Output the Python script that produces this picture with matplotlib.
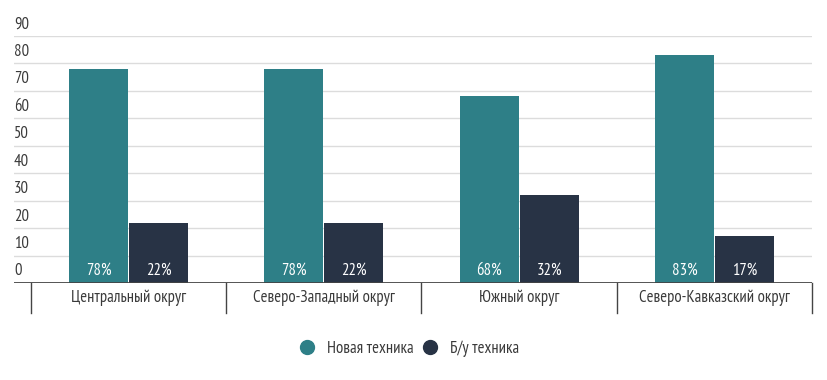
import matplotlib
matplotlib.use("Agg")
import matplotlib.pyplot as plt
import matplotlib.transforms as mtransforms
from matplotlib.lines import Line2D
import numpy as np

# ===== data =====
districts = ["Центральный округ", "Северо-Западный округ", "Южный округ", "Северо-Кавказский округ"]
new_equipment = [78, 78, 68, 83]
used_equipment = [22, 22, 32, 17]
series_names = ["Новая техника", "Б/у техника"]
y_ticks = [0, 10, 20, 30, 40, 50, 60, 70, 80, 90]

# ===== style =====
teal = "#2E7F87"
navy = "#283345"
text_col = "#3a3a3a"
fsize = 12
plt.rcParams["font.family"] = ["PT Sans Narrow", "DejaVu Sans"]

W, H = 828, 380
fig = plt.figure(figsize=(W / 100, H / 100), dpi=100)
ax_left, ax_right, ax_top, ax_bot = 14, 812, 36, 283
ax = fig.add_axes([ax_left / W, (H - ax_bot) / H, (ax_right - ax_left) / W, (ax_bot - ax_top) / H])

cat_px = (ax_right - 31) / 4.0
x = np.arange(len(districts))
width = 59 / cat_px
offset = 30 / cat_px

ax.bar(x - offset, new_equipment, width=width, color=teal, zorder=3)
ax.bar(x + offset, used_equipment, width=width, color=navy, zorder=3)

ax.set_xlim(-0.5 - (31 - ax_left) / cat_px, len(districts) - 0.5)
ax.set_ylim(0, 90)

# gridlines
for t in y_ticks[1:]:
    ax.axhline(t, color="#dcdcdc", lw=1, zorder=1)
ax.axhline(0, color="#444444", lw=2, zorder=4)

# y labels sit above gridlines, left aligned
for t in y_ticks:
    ax.text(0, t + 1.3, str(t), transform=mtransforms.blended_transform_factory(ax.transAxes, ax.transData),
            ha="left", va="bottom", fontsize=fsize, color=text_col)

# percentage labels inside bars
for i in range(len(districts)):
    ax.text(x[i] - offset, 4.4, f"{new_equipment[i]}%", ha="center", va="center", color="white", fontsize=fsize, zorder=5)
    ax.text(x[i] + offset, 4.4, f"{used_equipment[i]}%", ha="center", va="center", color="white", fontsize=fsize, zorder=5)

# category separators and labels
trans = mtransforms.blended_transform_factory(ax.transData, ax.transAxes)
sep_len = 30 / (ax_bot - ax_top)
for b in np.arange(-0.5, len(districts), 1.0):
    ax.plot([b, b], [0, -sep_len], transform=trans, color="#444444", lw=1, clip_on=False)
for i, name in enumerate(districts):
    ax.text(x[i], -15 / (ax_bot - ax_top), name, transform=trans, ha="center", va="center",
            fontsize=fsize, color=text_col)

ax.set_xticks([])
ax.set_yticks([])
for s in ax.spines.values():
    s.set_visible(False)

# legend
handles = [Line2D([], [], marker="o", ls="", markersize=10, color=c) for c in (teal, navy)]
fig.legend(handles, series_names, loc="center", bbox_to_anchor=(408 / W, (H - 349) / H), ncol=2,
           frameon=False, fontsize=fsize, handlelength=1.2, handletextpad=0.6, columnspacing=0.42,
           labelcolor=text_col)

fig.savefig("out.png", dpi=100)
